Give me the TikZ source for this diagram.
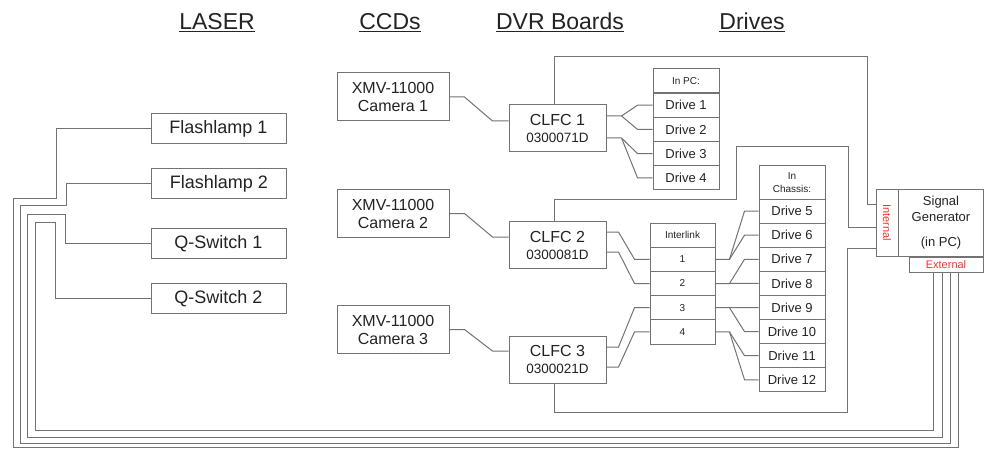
\documentclass[tikz,border=0pt]{standalone}
\usepackage{fontspec}
\setmainfont{Liberation Sans}
\usepackage{graphicx}
\usetikzlibrary{calc}
\definecolor{lc}{RGB}{115,115,115}
\definecolor{tc}{RGB}{35,35,35}
\definecolor{rc}{RGB}{255,45,45}
\begin{document}
\begin{tikzpicture}[x=1pt,y=-1pt,
  box/.style={draw=lc, line width=1pt, inner sep=0pt, text=tc, align=center},
  lbox/.style={box, minimum width=135pt, minimum height=30pt, font=\fontsize{18}{20}\selectfont},
  cbox/.style={box, minimum width=112pt, minimum height=48pt, font=\fontsize{16}{18}\selectfont},
  fbox/.style={box, minimum width=97pt, minimum height=47pt, font=\fontsize{16}{18}\selectfont},
  dbox/.style={box, minimum width=66pt, minimum height=24.2pt, font=\fontsize{13}{15}\selectfont},
  hbox/.style={box, minimum width=66pt, font=\fontsize{10}{13}\selectfont},
  ibox/.style={box, minimum width=65pt, minimum height=24.2pt, font=\fontsize{10}{12}\selectfont},
  wire/.style={draw=lc, line width=1pt},
  head/.style={text=tc, font=\fontsize{23}{26}\selectfont, anchor=base, inner sep=0pt}]
\fill[white] (0,0) rectangle (984,449);
\useasboundingbox (0,0) rectangle (984,449);

% headings
\node[head] (hlaser) at (217,30) {\underline{LASER}};
\node[head] (hccd) at (390,30) {\underline{CCDs}};
\node[head] (hdvr) at (560,30) {\underline{DVR Boards}};
\node[head] (hdrv) at (752,30) {\underline{Drives}};

% laser boxes
\node[lbox] (fl1) at (218.5,129) {Flashlamp 1};
\node[lbox] (fl2) at (219,183.5) {Flashlamp 2};
\node[lbox] (qs1) at (218.5,243.5) {Q-Switch 1};
\node[lbox] (qs2) at (218.5,298.5) {Q-Switch 2};

% cameras
\node[cbox] (cam1) at (393,97) {XMV-11000\\Camera 1};
\node[cbox] (cam2) at (393,213.5) {XMV-11000\\Camera 2};
\node[cbox] (cam3) at (393,329.5) {XMV-11000\\Camera 3};

% CLFC boards
\node[fbox] (clfc1) at (557.5,128) {CLFC 1\\[-1pt]{\fontsize{13.5}{15}\selectfont 0300071D}};
\node[fbox] (clfc2) at (557.5,245) {CLFC 2\\[-1pt]{\fontsize{13.5}{15}\selectfont 0300081D}};
\node[fbox] (clfc3) at (557.5,359.5) {CLFC 3\\[-1pt]{\fontsize{13.5}{15}\selectfont 0300021D}};

% drives in PC
\node[hbox, minimum height=24pt] (pch) at (686,81) {In PC:};
\node[dbox] (d1) at (686,105.2) {Drive 1};
\node[dbox] (d2) at (686,129.4) {Drive 2};
\node[dbox] (d3) at (686,153.6) {Drive 3};
\node[dbox] (d4) at (686,177.8) {Drive 4};

% interlink
\node[ibox] (ilh) at (682.5,235.1) {Interlink};
\node[ibox] (r1) at (682.5,259.3) {1};
\node[ibox] (r2) at (682.5,283.5) {2};
\node[ibox] (r3) at (682.5,307.7) {3};
\node[ibox] (r4) at (682.5,331.9) {4};

% drives in chassis
\node[hbox, minimum height=33pt] (chh) at (792,182.5) {In\\Chassis:};
\node[dbox] (d5) at (792,211.1) {Drive 5};
\node[dbox] (d6) at (792,235.2) {Drive 6};
\node[dbox] (d7) at (792,259.3) {Drive 7};
\node[dbox] (d8) at (792,283.4) {Drive 8};
\node[dbox] (d9) at (792,307.5) {Drive 9};
\node[dbox] (d10) at (792,331.6) {Drive 10};
\node[dbox] (d11) at (792,355.7) {Drive 11};
\node[dbox] (d12) at (792,379.8) {Drive 12};

% signal generator
\node[box, minimum width=22pt, minimum height=67pt, text=rc, font=\fontsize{11}{12}\selectfont] (int) at (887,222.5) {\rotatebox{-90}{Internal}};
\node[box, minimum width=85pt, minimum height=67pt, font=\fontsize{13}{16}\selectfont, anchor=north west] (sg) at (898,189) {Signal\\Generator\\[9pt](in PC)};
\node[box, minimum width=74pt, minimum height=15pt, text=rc, font=\fontsize{11}{12}\selectfont] (ext) at (946,264.5) {External};

% laser wires
\draw[wire] (fl1.west) -| (56,198) -| (13,447) -| ([xshift=12pt]ext.south);
\draw[wire] (fl2.west) -| (66,205) -| (20,443) -| ([xshift=4pt]ext.south);
\draw[wire] (qs1.west) -| (65,214) -| (27,437) -| ([xshift=-4pt]ext.south);
\draw[wire] (qs2.west) -| (55,222) -| (35,430) -| ([xshift=-13pt]ext.south);

% camera to CLFC
\draw[wire] (cam1.east) -- ++(15,0) -- ($([yshift=7pt]clfc1.west)+(-16,0)$) -- ([yshift=7pt]clfc1.west);
\draw[wire] (cam2.east) -- ++(15,0) -- ($([yshift=8pt]clfc2.west)+(-16,0)$) -- ([yshift=8pt]clfc2.west);
\draw[wire] (cam3.east) -- ++(15,0) -- ($([yshift=8.5pt]clfc3.west)+(-16,0)$) -- ([yshift=8.5pt]clfc3.west);

% CLFC1 to drives 1-4
\draw[wire] ([yshift=12pt]clfc1.east) -- ++(15,0) coordinate (a1) -- ($(d1.west)+(-15,0)$) -- (d1.west);
\draw[wire] (a1) -- ($(d2.west)+(-15,0)$) -- (d2.west);
\draw[wire] ([yshift=-10pt]clfc1.east) -- ++(15,0) coordinate (a2) -- ($(d3.west)+(-15,0)$) -- (d3.west);
\draw[wire] (a2) -- ($(d4.west)+(-15,0)$) -- (d4.west);

% CLFC2/3 to interlink
\draw[wire] ([yshift=13pt]clfc2.east) -- ++(12,0) -- ($(r1.west)+(-15,0)$) -- (r1.west);
\draw[wire] ([yshift=-7pt]clfc2.east) -- ++(12,0) -- ($(r2.west)+(-15,0)$) -- (r2.west);
\draw[wire] ([yshift=12.5pt]clfc3.east) -- ++(12,0) -- ($(r3.west)+(-15,0)$) -- (r3.west);
\draw[wire] ([yshift=-7.5pt]clfc3.east) -- ++(12,0) -- ($(r4.west)+(-15,0)$) -- (r4.west);

% interlink to drives 5-12
\draw[wire] (r1.east) -- ++(14,0) coordinate (b1) -- ($(d5.west)+(-14,0)$) -- (d5.west);
\draw[wire] (b1) -- ($(d6.west)+(-14,0)$) -- (d6.west);
\draw[wire] (r2.east) -- ++(14,0) coordinate (b2) -- ($(d7.west)+(-14,0)$) -- (d7.west);
\draw[wire] (b2) -- ($(d8.west)+(-14,0)$) -- (d8.west);
\draw[wire] (r3.east) -- ++(14,0) coordinate (b3) -- ($(d9.west)+(-14,0)$) -- (d9.west);
\draw[wire] (b3) -- ($(d10.west)+(-14,0)$) -- (d10.west);
\draw[wire] (r4.east) -- ++(14,0) coordinate (b4) -- ($(d11.west)+(-14,0)$) -- (d11.west);
\draw[wire] (b4) -- ($(d12.west)+(-14,0)$) -- (d12.west);

% CLFC to signal generator internal
\draw[wire] ([xshift=-3pt]clfc1.north) |- (867,57) |- ([yshift=18.5pt]int.west);
\draw[wire] ([xshift=-3pt]clfc2.north) |- (736,199) |- (848,147) |- ([yshift=-4.5pt]int.west);
\draw[wire] ([xshift=-3pt]clfc3.south) |- (847,412) |- ([yshift=-25.5pt]int.west);
\end{tikzpicture}
\end{document}
